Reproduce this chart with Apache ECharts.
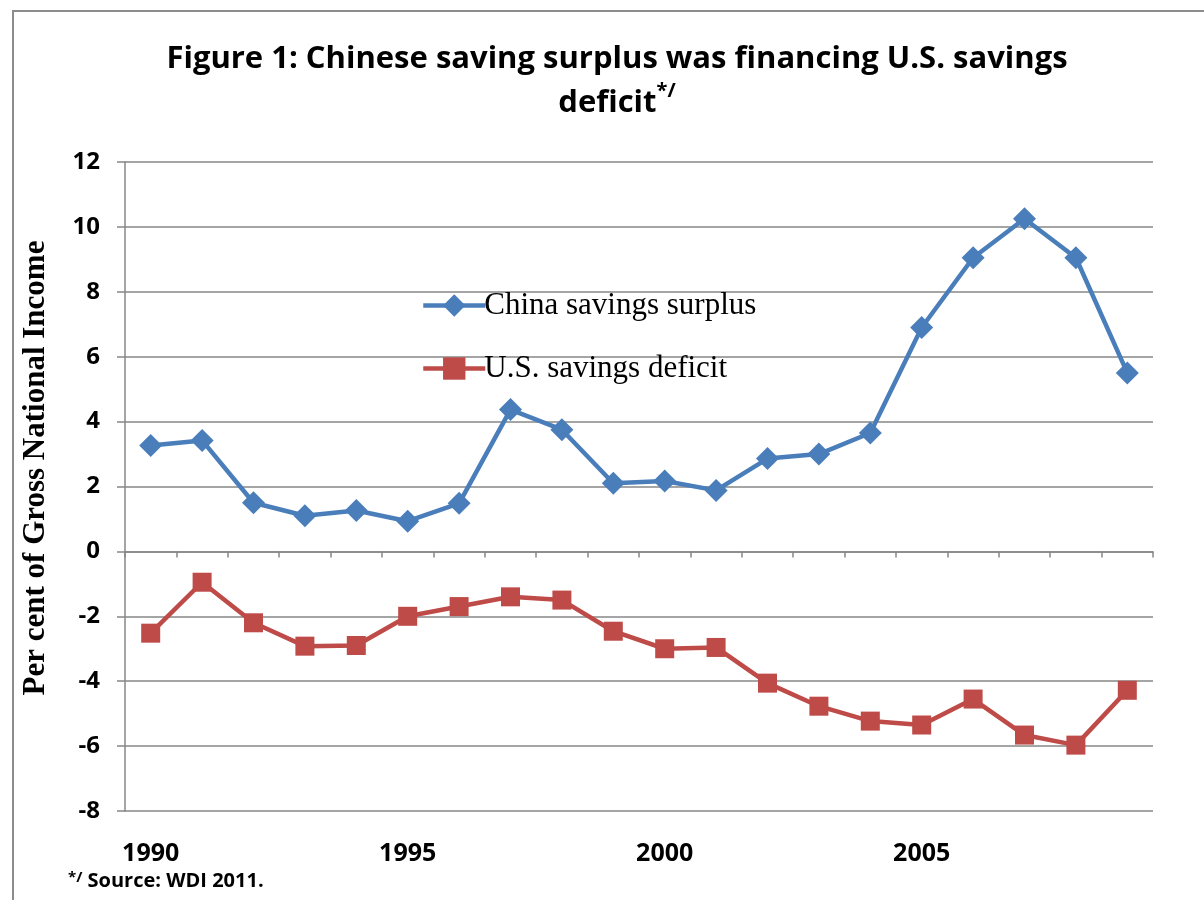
<!DOCTYPE html>
<html><head><meta charset="utf-8">
<script src="https://cdn.jsdelivr.net/npm/echarts@6/dist/echarts.min.js"></script>
<style>html,body{margin:0;padding:0;background:#fff}#c{width:1204px;height:900px}</style>
</head><body><div id="c"></div>
<script>
const years = ['1990','1991','1992','1993','1994','1995','1996','1997','1998','1999','2000','2001','2002','2003','2004','2005','2006','2007','2008','2009'];
const chinaSurplus = [3.26,3.42,1.5,1.1,1.26,0.93,1.48,4.37,3.75,2.1,2.17,1.88,2.86,3.0,3.65,6.9,9.05,10.25,9.05,5.5];
const usDeficit = [-2.52,-0.95,-2.2,-2.92,-2.9,-2.0,-1.7,-1.4,-1.5,-2.46,-3.0,-2.96,-4.06,-4.77,-5.23,-5.35,-4.55,-5.66,-5.97,-4.28];
const yTicks = {min:-8, max:12, interval:2};
const seriesNames = ['China savings surplus','U.S. savings deficit'];
const yAxisTitle = 'Per cent of Gross National Income';

const chart = echarts.init(document.getElementById('c'));
const axisGray = '#878787';
chart.setOption({
  animation:false,
  backgroundColor:'#fff',
  title:{
    text:'Figure 1: Chinese saving surplus was financing U.S. savings\ndeficit{sup|*/}',
    left:612, top:32, textAlign:'center',
    textStyle:{fontFamily:'Open Sans',fontWeight:'bold',fontSize:31,color:'#000',lineHeight:44,
      rich:{sup:{fontFamily:'Open Sans',fontWeight:'bold',fontSize:20,verticalAlign:'top',lineHeight:30,padding:[0,0,14,0]}}}
  },
  legend:{
    orient:'vertical', left:416, top:285, itemGap:32, itemWidth:62, itemHeight:28,
    data:seriesNames,
    lineStyle:{width:4.5},
    textStyle:{fontFamily:'Liberation Serif',fontSize:31,color:'#000',padding:[0,0,0,-6]}
  },
  grid:{left:125,right:51,top:162,bottom:89,containLabel:false},
  xAxis:[{
    type:'category', data:years, boundaryGap:true,
    axisLine:{onZero:true,lineStyle:{color:axisGray,width:1.5}},
    axisTick:{show:true,interval:0,length:6,lineStyle:{color:axisGray,width:1.5}},
    axisLabel:{show:false}
  },{
    type:'category', data:years, boundaryGap:true, position:'bottom',
    axisLine:{show:false,onZero:false}, axisTick:{show:false},
    axisLabel:{interval:4,margin:30,fontFamily:'Open Sans',fontWeight:'bold',fontSize:25,color:'#000'}
  }],
  yAxis:{
    type:'value', min:yTicks.min, max:yTicks.max, interval:yTicks.interval,
    axisLine:{show:true,lineStyle:{color:axisGray,width:1.5}},
    axisTick:{show:true,length:8,lineStyle:{color:axisGray,width:1.5}},
    splitLine:{lineStyle:{color:axisGray,width:1.5}},
    axisLabel:{margin:25,fontFamily:'Open Sans',fontWeight:'bold',fontSize:24,color:'#000'}
  },
  series:[{
    name:seriesNames[0], type:'line', data:chinaSurplus, xAxisIndex:0,
    symbol:'diamond', symbolSize:23,
    lineStyle:{color:'#4A7EBB',width:4.5}, itemStyle:{color:'#4A7EBB'}
  },{
    name:seriesNames[1], type:'line', data:usDeficit, xAxisIndex:0,
    symbol:'rect', symbolSize:19,
    lineStyle:{color:'#BE4B48',width:4.5}, itemStyle:{color:'#BE4B48'}
  }],
  graphic:[
    {type:'polyline',shape:{points:[[13,900],[13,11],[1204,11]]},style:{stroke:'#8c8c8c',lineWidth:2,fill:null}},
    {type:'text',x:36,y:468,rotation:Math.PI/2,style:{text:yAxisTitle,fontFamily:'Liberation Serif',fontWeight:'bold',fontSize:31,fill:'#000',align:'center',verticalAlign:'middle'}},
    {type:'text',left:68,top:870,style:{text:'{sup|*/} Source: WDI 2011.',fontFamily:'Open Sans',fontWeight:'bold',fontSize:20,fill:'#000',
      rich:{sup:{fontFamily:'Open Sans',fontWeight:'bold',fontSize:15,verticalAlign:'top',padding:[0,0,8,0]}}}}
  ]
});
</script></body></html>
